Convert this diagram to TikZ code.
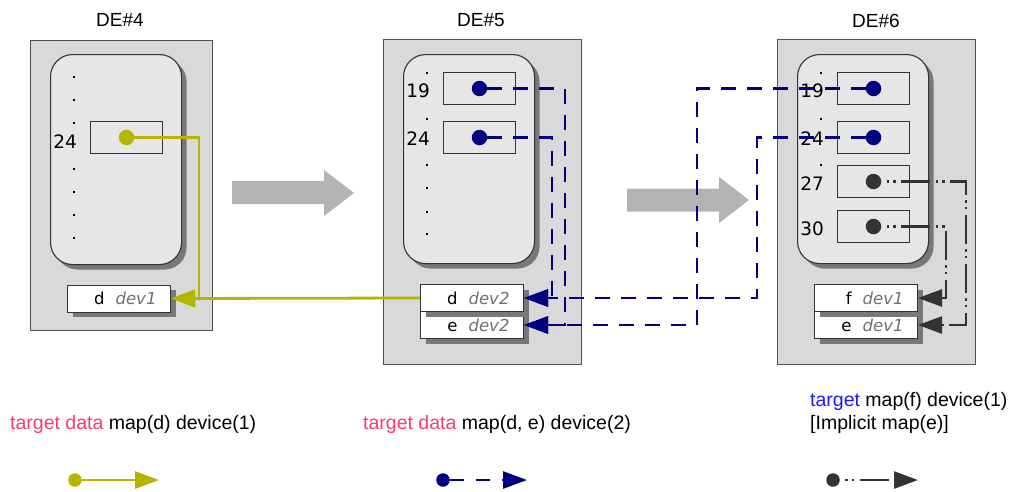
\documentclass[tikz,border=0pt]{standalone}
\usepackage{fontspec}
\setmainfont{Liberation Sans}
\newfontfamily\dvfont{DejaVu Sans}
\usetikzlibrary{arrows.meta,shadows,calc}

\definecolor{panelfill}{RGB}{217,217,217}
\definecolor{panelline}{RGB}{80,80,80}
\definecolor{heapfill}{RGB}{230,230,230}
\definecolor{shadowgray}{RGB}{120,120,120}
\definecolor{olivey}{RGB}{181,181,0}
\definecolor{navyb}{RGB}{0,0,128}
\definecolor{darkg}{RGB}{51,51,51}
\definecolor{bigarrow}{RGB}{179,179,179}
\definecolor{devgray}{RGB}{112,112,112}
\definecolor{kwpink}{RGB}{250,60,105}
\definecolor{kwblue}{RGB}{25,25,255}

\begin{document}
\begin{tikzpicture}[x=1pt,y=-1pt,
  depanel/.style={draw=panelline, fill=panelfill, line width=0.9pt, anchor=north west, inner sep=0pt},
  heapbox/.style={draw=darkg, fill=heapfill, line width=1.1pt, rounded corners=22pt,
    anchor=north west, inner sep=0pt,
    drop shadow={shadow xshift=5pt, shadow yshift=-5pt, fill=shadowgray, opacity=1}},
  slotbox/.style={draw=darkg, fill=heapfill, line width=1pt, anchor=north west, inner sep=0pt,
    minimum width=72pt, minimum height=32pt},
  rowbox/.style={draw=darkg, fill=white, line width=1pt, anchor=north west,
    inner xsep=14pt, inner ysep=0pt, minimum height=27pt, text width=75pt, align=right,
    font=\dvfont\fontsize{16.5}{18}\selectfont,
    drop shadow={shadow xshift=5pt, shadow yshift=-5pt, fill=shadowgray, opacity=1}},
  numlabel/.style={anchor=base east, inner sep=0pt, font=\dvfont\fontsize{18.5}{20}\selectfont},
  detitle/.style={anchor=base, inner sep=0pt, font=\fontsize{19}{22}\selectfont},
  legtext/.style={anchor=base west, inner sep=0pt, align=left,
    font=\fontsize{19.5}{23}\selectfont},
  ptr/.style={circle, inner sep=0pt, minimum size=15.5pt},
  lptr/.style={circle, inner sep=0pt, minimum size=13.5pt},
  headtip/.style={-{Triangle[length=24pt,width=17pt]}},
  yelline/.style={draw=olivey, line width=2.8pt, headtip},
  navyline/.style={draw=navyb, line width=2.8pt, headtip,
    dash pattern=on 15pt off 11pt},
  grayline/.style={draw=darkg, line width=2.6pt, headtip,
    dash pattern=on 2.5pt off 4pt on 2.5pt off 5.5pt on 29pt off 5.5pt, dash phase=43.5pt},
]
\useasboundingbox (0,0) rectangle (1011,491);

% ---------- titles ----------
\node[detitle] (t4) at (120,26) {DE\#4};
\node[detitle] (t5) at (481,26) {DE\#5};
\node[detitle] (t6) at (876,27.5) {DE\#6};

% ---------- DE#4 ----------
\node[depanel, minimum width=182pt, minimum height=290.5pt] (p4) at (30,39.5) {};
\node[heapbox, minimum width=131pt, minimum height=210pt] (h4) at (50,54) {};
\foreach \yy in {77,100,123,169,192,215,238}
  \fill (72.8,\yy-1.2) rectangle ++(2.5,2.5);
\node[slotbox] (s4a) at (90,121) {};
\node[numlabel] (n4a) at ($(s4a.west)+(-13,11)$) {24};
\node[ptr, fill=olivey] (dot4) at (s4a.center) {};
\node[rowbox] (d4) at (67,284.5) {d\hspace{11pt}\textcolor{devgray}{\itshape dev1}};

% ---------- DE#5 ----------
\node[depanel, minimum width=198pt, minimum height=325pt] (p5) at (383,39) {};
\node[heapbox, minimum width=131pt, minimum height=209pt] (h5) at (403,54) {};
\foreach \yy in {73,119,165,188,212,234}
  \fill (425.8,\yy-1.2) rectangle ++(2.5,2.5);
\node[slotbox] (s5a) at (443,72) {};
\node[slotbox] (s5b) at (443,121) {};
\node[numlabel] (n5a) at ($(s5a.west)+(-13,9)$) {19};
\node[numlabel] (n5b) at ($(s5b.west)+(-13,8)$) {24};
\node[ptr, fill=navyb] (dot5a) at (s5a.center) {};
\node[ptr, fill=navyb] (dot5b) at (s5b.center) {};
\node[rowbox] (e5) at (420,311) {e\hspace{11pt}\textcolor{devgray}{\itshape dev2}};
\node[rowbox] (d5) at (420,284) {d\hspace{11pt}\textcolor{devgray}{\itshape dev2}};

% ---------- DE#6 ----------
\node[depanel, minimum width=198pt, minimum height=325pt] (p6) at (777,39) {};
\node[heapbox, minimum width=131pt, minimum height=209pt] (h6) at (797,54) {};
\foreach \yy in {73,119,165}
  \fill (819.8,\yy-1.2) rectangle ++(2.5,2.5);
\node[slotbox] (s6a) at (837,72) {};
\node[slotbox] (s6b) at (837,121) {};
\node[slotbox] (s6c) at (837,165) {};
\node[slotbox] (s6d) at (837,210) {};
\node[numlabel] (n6a) at ($(s6a.west)+(-13,9)$) {19};
\node[numlabel] (n6b) at ($(s6b.west)+(-13,8)$) {24};
\node[numlabel] (n6c) at ($(s6c.west)+(-13,9)$) {27};
\node[numlabel] (n6d) at ($(s6d.west)+(-13,9)$) {30};
\node[ptr, fill=navyb] (dot6a) at (s6a.center) {};
\node[ptr, fill=navyb] (dot6b) at (s6b.center) {};
\node[ptr, fill=darkg] (dot6c) at (s6c.center) {};
\node[ptr, fill=darkg] (dot6d) at (s6d.center) {};
\node[rowbox] (e6) at (814,311) {e\hspace{11pt}\textcolor{devgray}{\itshape dev1}};
\node[rowbox] (f6) at (814,284) {f\hspace{11pt}\textcolor{devgray}{\itshape dev1}};

% ---------- transition arrows ----------
\fill[bigarrow] (232,181) -- (324,181) -- (324,170) -- (354,193)
  -- (324,216) -- (324,204) -- (232,204) -- cycle;
\fill[bigarrow] (627,188.5) -- (719,188.5) -- (719,177) -- (749,200)
  -- (719,223) -- (719,211.5) -- (627,211.5) -- cycle;

% ---------- mapping connectors ----------
\coordinate (y4) at (199,0);
\draw[yelline] (dot4) -| (y4 |- d4.east) -- (d4.east);
\draw[yelline] (d5.west) -- (d4.east);

\coordinate (b5a) at (565,0);
\coordinate (b5b) at (552,0);
\coordinate (b6a) at (697,0);
\coordinate (b6b) at (757,0);
\draw[navyline] (dot5a) -| (b5a |- e5.east) -- (e5.east);
\draw[navyline] (dot5b) -| (b5b |- d5.east) -- (d5.east);
\draw[navyline] (dot6a) -| (b6a |- e5.east) -- (e5.east);
\draw[navyline] (dot6b) -| (b6b |- d5.east) -- (d5.east);

\coordinate (g6a) at (966,0);
\coordinate (g6b) at (946,0);
\draw[grayline] (dot6c) -| (g6a |- e6.east) -- (e6.east);
\draw[grayline] (dot6d) -| (g6b |- f6.east) -- (f6.east);

% ---------- legend ----------
\node[legtext] (lt1) at (10,429.5) {\textcolor{kwpink}{target data} map(d) device(1)};
\node[legtext] (lt2) at (363,429.5) {\textcolor{kwpink}{target data} map(d, e) device(2)};
\node[legtext] (lt3) at (810,429) {\textcolor{kwblue}{target} map(f) device(1)\\{}[Implicit map(e)]};

\node[lptr, fill=olivey] (lg1) at (75,480) {};
\coordinate (lg1e) at (159,480);
\draw[yelline] (lg1) -- (lg1e);

\node[lptr, fill=navyb] (lg2) at (443,480) {};
\coordinate (lg2e) at (527,480);
\draw[navyline, dash pattern=on 14pt off 12pt] (lg2) -- (lg2e);

\node[lptr, fill=darkg] (lg3) at (833,480) {};
\coordinate (lg3e) at (918,480);
\draw[grayline] (lg3) -- (lg3e);
\end{tikzpicture}
\end{document}
